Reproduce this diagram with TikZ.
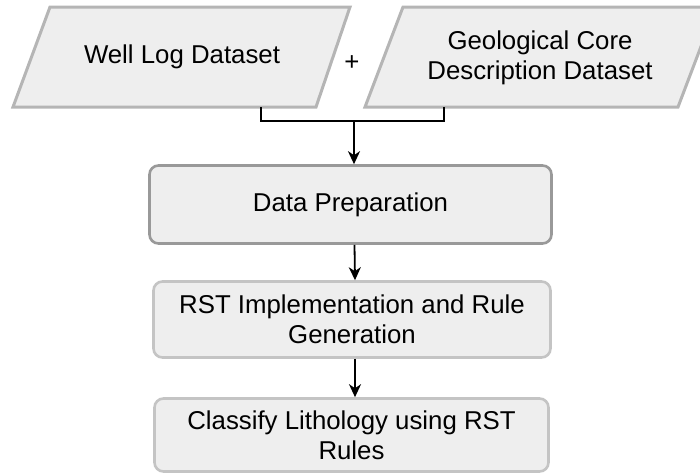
\documentclass[tikz,border=0pt]{standalone}
\usepackage{fontspec}
\setmainfont{Liberation Sans}
\usetikzlibrary{arrows.meta}
\definecolor{boxfill}{HTML}{EEEEEE}
\definecolor{inputline}{HTML}{B5B5B5}
\definecolor{prepline}{HTML}{999999}
\definecolor{stepline}{HTML}{C4C4C4}
\tikzset{
  inputshape/.style={draw=inputline, fill=boxfill, line width=3pt, line join=miter},
  label/.style={align=center, inner sep=0pt, font=\fontsize{25.8}{30}\selectfont},
  stepbox/.style={label, rounded corners=9pt, fill=boxfill, line width=2.6pt},
  flow/.style={line width=1.8pt, -{Stealth[length=13pt,width=12pt,inset=4pt]}},
  link/.style={line width=1.8pt}
}
\begin{document}
\begin{tikzpicture}[x=1pt,y=-1pt]
  \useasboundingbox (0,0) rectangle (700,475);
  \clip (0,0) rectangle (700,475);

  % input datasets (parallelograms)
  \draw[inputshape] (50,7) -- (350,7) -- (316,107) -- (13,107) -- cycle;
  \node[label] (welllog) at (182,57) {Well Log Dataset};
  \draw[inputshape] (403,7) -- (716,7) -- (678,107) -- (365,107) -- cycle;
  \node[label] (core) at (540,58) {Geological Core\\Description Dataset};
  \node[label] (plus) at (352,63) {+};

  % processing steps
  \node[stepbox, draw=prepline, minimum width=402, minimum height=78] (prep) at (350.5,204.5) {Data Preparation};
  \node[stepbox, draw=stepline, minimum width=397, minimum height=76] (rst) at (352,319.5) {RST Implementation and Rule\\Generation};
  \node[stepbox, draw=stepline, minimum width=394, minimum height=73] (classify) at (351.5,435) {Classify Lithology using RST\\Rules};

  % merge of the two inputs
  \coordinate (wlout) at (261,107);
  \coordinate (gcout) at (444,107);
  \coordinate (join) at (354,121);
  \draw[link] (wlout) -- (wlout |- join) -- (gcout |- join) -- (gcout);
  \draw[flow] (join) -- (join |- prep.north);

  % main flow
  \draw[flow] ([xshift=4pt]prep.south) -- ([xshift=3pt]rst.north);
  \draw[flow] ([xshift=3pt]rst.south) -- ([xshift=3.5pt]classify.north);
\end{tikzpicture}
\end{document}
